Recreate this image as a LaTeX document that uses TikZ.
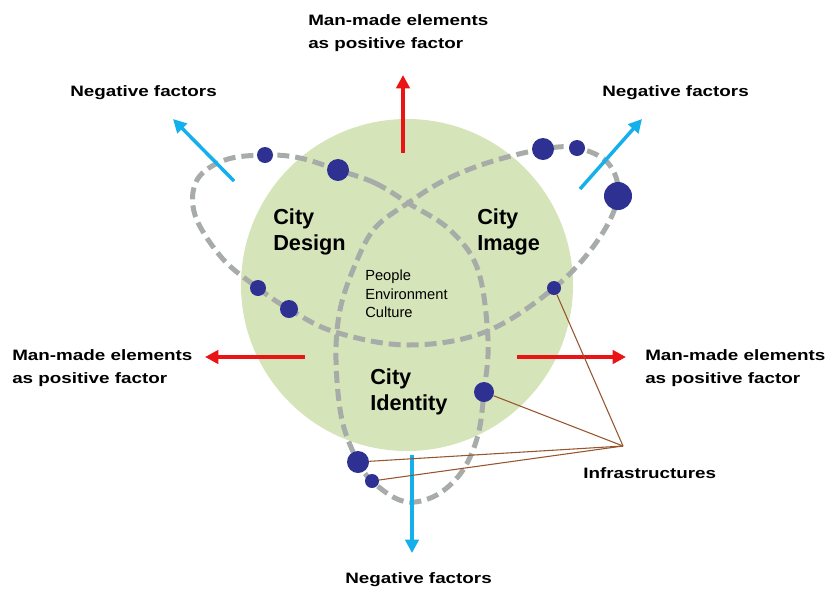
\documentclass[tikz,border=0pt]{standalone}
\usepackage{fontspec}
\setmainfont{Liberation Sans}
\newfontfamily\widefont{Liberation Sans}[FakeStretch=1.25]
\usetikzlibrary{arrows.meta}
\definecolor{leaf}{RGB}{214,228,186}
\definecolor{navy}{RGB}{46,49,146}
\definecolor{knot}{RGB}{168,172,168}
\definecolor{red}{RGB}{235,20,20}
\definecolor{sky}{RGB}{20,176,236}
\definecolor{rust}{RGB}{150,85,45}

\begin{document}
\begin{tikzpicture}[x=0.75pt,y=-0.75pt,
    dot/.style={circle, fill=navy, inner sep=0pt},
    knotline/.style={draw=knot, line width=3.75pt, dash pattern=on 9pt off 4.5pt},
    plus/.style={draw=red, line width=2.6pt, -{Triangle[length=10pt,width=10pt]}},
    minus/.style={draw=sky, line width=2.6pt, -{Triangle[length=10pt,width=10pt]}},
    infra/.style={draw=rust, line width=0.8pt},
    outlbl/.style={font=\widefont\bfseries\fontsize{11.3}{17}\selectfont, align=left, anchor=west, inner sep=0pt},
    citylbl/.style={font=\bfseries\fontsize{16.3}{20}\selectfont, align=left, anchor=west, inner sep=0pt}]
    \useasboundingbox (0,0) rectangle (825,590);
    % the green field
    \fill[leaf] (407,285) circle (124.5pt);
    % trefoil of dashed loops
    \draw[knotline] plot[smooth cycle, tension=0.6] coordinates {
        (408,203) (375,183) (338,170) (300,158) (265,155) (225,160)
        (197,180) (195,215) (222,258) (258,288) (289,309) (335,332)
        (408,345) (485,332) (554,288) (598,240) (618,196) (608,163)
        (577,148) (543,149) (490,162) (445,180) (408,203) (375,228)
        (355,265) (340,310) (336,360) (342,420) (358,462) (372,481)
        (395,498) (415,502) (440,493) (463,470) (478,435) (484,392)
        (488,340) (478,270) (450,230)};
    % labels
    \node[citylbl] (design) at (273,232) {City\\Design};
    \node[citylbl] (image) at (477,232) {City\\Image};
    \node[citylbl] (identity) at (370,392) {City\\Identity};
    \node[anchor=west, inner sep=0pt, align=left, font=\fontsize{11}{14}\selectfont] (core) at (365,294) {People\\Environment\\Culture};
    \node[outlbl] (posT) at (308,33) {Man-made elements\\as positive factor};
    \node[outlbl] (posL) at (12,368) {Man-made elements\\as positive factor};
    \node[outlbl] (posR) at (645,368) {Man-made elements\\as positive factor};
    \node[outlbl] (negL) at (70,93) {Negative factors};
    \node[outlbl] (negR) at (602,93) {Negative factors};
    \node[outlbl] (negB) at (345,580) {Negative factors};
    \node[outlbl] (infralbl) at (583,473) {Infrastructures};
    % arrows
    \coordinate (tT0) at (403,153); \coordinate (tT1) at (403,75);
    \coordinate (tL0) at (305,357); \coordinate (tL1) at (205,357);
    \coordinate (tR0) at (517,357); \coordinate (tR1) at (626,357);
    \coordinate (nL0) at (234,181); \coordinate (nL1) at (173,119);
    \coordinate (nR0) at (580,189); \coordinate (nR1) at (642,119);
    \coordinate (nB0) at (412,455); \coordinate (nB1) at (412,553);
    \draw[plus] (tT0) -- (tT1);
    \draw[plus] (tL0) -- (tL1);
    \draw[plus] (tR0) -- (tR1);
    \draw[minus] (nL0) -- (nL1);
    \draw[minus] (nR0) -- (nR1);
    \draw[minus] (nB0) -- (nB1);
    % dots on the loops
    \foreach \n/\x/\y/\s in {dA/265/155/12, dB/338/170/16.5, dC/258/288/12, dD/289/309/13.5,
        dE/543/149/16.5, dF/577/148/12, dG/618/196/21, dH/554/288/10.5,
        dI/484/392/15, dJ/358/462/16.5, dK/372/481/10.5} {
        \node[dot, minimum size=\s pt] (\n) at (\x,\y) {};
    }
    % infrastructures
    \coordinate (hub) at (623,446);
    \foreach \n in {dH,dI,dJ,dK} {
        \draw[infra] (hub) -- (\n);
    }
\end{tikzpicture}
\end{document}
